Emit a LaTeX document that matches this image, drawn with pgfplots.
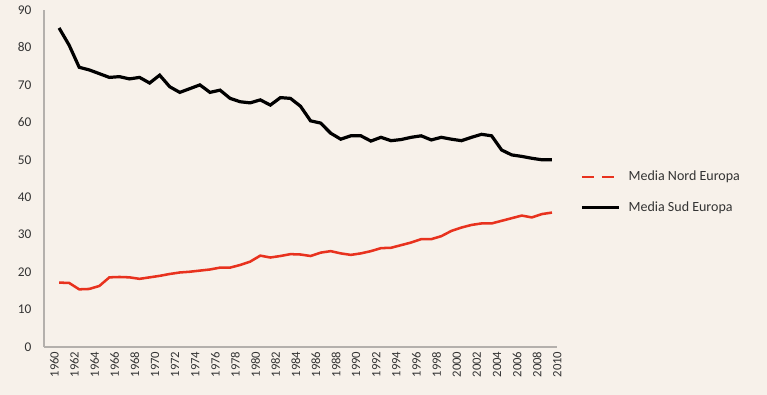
\documentclass[border=0pt]{standalone}
\usepackage{pgfplots}
\pgfplotsset{compat=1.18}
\usepackage{fontspec}
\setmainfont{Carlito}
\definecolor{bg}{HTML}{F7F1EA}
\definecolor{nord}{HTML}{E8321E}
\definecolor{axisgray}{HTML}{B4B0AC}
\definecolor{txt}{HTML}{333333}
\begin{document}
\begin{tikzpicture}[x=0.75pt,y=0.75pt]
\fill[bg] (0,0) rectangle (767,395);
\begin{axis}[
  at={(33pt,36pt)}, anchor=south west,
  scale only axis, width=384.75pt, height=252.75pt,
  xmin=1959.5, xmax=2010.5, ymin=0, ymax=90,
  xtick={1960,1962,...,2010}, ytick={0,10,...,90},
  xticklabel style={rotate=90, anchor=east, yshift=-4pt, font=\fontsize{9.5}{10}\selectfont, text=txt, /pgf/number format/1000 sep={}},
  yticklabel style={xshift=-6pt, font=\fontsize{10}{11}\selectfont, text=txt},
  /pgf/number format/assume math mode=true,
  x tick label style={/pgf/number format/1000 sep={}},
  axis x line*=bottom, axis y line*=left,
  axis line style={axisgray, line width=0.8pt, -},
  major tick length=0pt,
  tick style={draw=none},
  legend style={at={(1.045,0.46)}, anchor=west, draw=none, fill=none,
    font=\fontsize{10.5}{12}\selectfont, row sep=10pt, text=txt,
    inner sep=0pt, /tikz/column sep=4pt},
  legend cell align=left,
  legend image code/.code={\draw[#1] (0pt,0pt) -- (28pt,0pt);},
]
\addlegendimage{nord, line width=1.8pt, dash pattern=on 9pt off 6pt}
\addlegendentry{Media Nord Europa}
\addlegendimage{black, line width=2.2pt}
\addlegendentry{Media Sud Europa}
\addplot[nord, line width=1.9pt, forget plot] coordinates {
(1961,17.2)(1962,17.1)(1963,15.4)(1964,15.5)(1965,16.3)(1966,18.6)(1967,18.7)(1968,18.6)(1969,18.2)(1970,18.6)
(1971,19.0)(1972,19.5)(1973,19.9)(1974,20.1)(1975,20.4)(1976,20.7)(1977,21.2)(1978,21.2)(1979,21.9)(1980,22.8)
(1981,24.4)(1982,23.9)(1983,24.3)(1984,24.8)(1985,24.7)(1986,24.3)(1987,25.2)(1988,25.6)(1989,25.0)(1990,24.6)
(1991,25.0)(1992,25.6)(1993,26.4)(1994,26.5)(1995,27.2)(1996,27.9)(1997,28.8)(1998,28.8)(1999,29.6)(2000,31.0)
(2001,31.9)(2002,32.6)(2003,33.0)(2004,33.0)(2005,33.7)(2006,34.4)(2007,35.1)(2008,34.6)(2009,35.5)(2010,35.9)
};
\addplot[black, line width=2.4pt, forget plot] coordinates {
(1961,85.2)(1962,80.6)(1963,74.7)(1964,74.0)(1965,73.0)(1966,72.0)(1967,72.2)(1968,71.6)(1969,72.0)(1970,70.5)
(1971,72.6)(1972,69.5)(1973,68.0)(1974,69.0)(1975,70.0)(1976,68.0)(1977,68.6)(1978,66.4)(1979,65.5)(1980,65.2)
(1981,66.0)(1982,64.6)(1983,66.6)(1984,66.4)(1985,64.3)(1986,60.4)(1987,59.8)(1988,57.1)(1989,55.5)(1990,56.4)
(1991,56.4)(1992,55.0)(1993,56.0)(1994,55.1)(1995,55.4)(1996,56.0)(1997,56.4)(1998,55.3)(1999,56.0)(2000,55.5)
(2001,55.1)(2002,56.0)(2003,56.8)(2004,56.4)(2005,52.6)(2006,51.3)(2007,50.9)(2008,50.4)(2009,50.0)(2010,50.0)
};
\end{axis}
\end{tikzpicture}
\end{document}
